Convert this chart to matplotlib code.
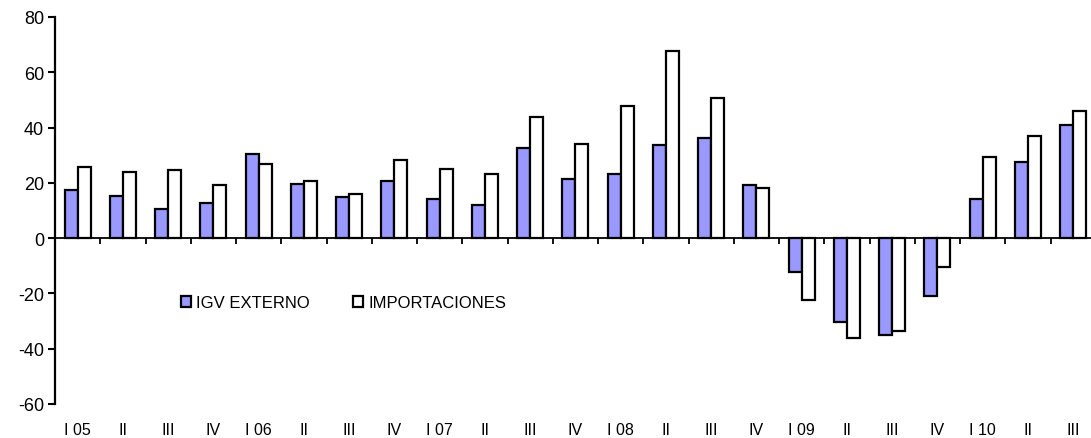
import numpy as np
import matplotlib.pyplot as plt
from matplotlib.patches import Patch
from matplotlib.transforms import blended_transform_factory

plt.rcParams['font.family'] = ['Liberation Sans', 'DejaVu Sans']
plt.rcParams['axes.unicode_minus'] = False

# Quarterly data, I 05 .. III 10
quarters = ["I 05", "II", "III", "IV", "I 06", "II", "III", "IV",
            "I 07", "II", "III", "IV", "I 08", "II", "III", "IV",
            "I 09", "II", "III", "IV", "I 10", "II", "III"]
igv_externo = [17.4, 15.1, 10.7, 12.7, 30.3, 19.7, 14.8, 20.6,
               14.0, 11.9, 32.7, 21.5, 23.1, 33.6, 36.1, 19.3,
               -12.1, -30.2, -35.0, -21.0, 14.1, 27.5, 40.9]
importaciones = [25.6, 24.1, 24.6, 19.4, 27.0, 20.6, 15.8, 28.3,
                 24.9, 23.1, 43.8, 34.1, 47.9, 67.8, 50.6, 18.2,
                 -22.4, -36.3, -33.5, -10.6, 29.4, 37.0, 46.1]

W, H = 1091, 439
fig = plt.figure(figsize=(W / 100, H / 100), dpi=100)
# axes slightly wider than figure: the last category is cut off in the original
ax = fig.add_axes([55 / W, (H - 405) / H, 23 * 45.25 / W, (405 - 18) / H])

x = np.arange(len(quarters))
bw = 0.29
ax.bar(x - bw / 2, igv_externo, bw, color='#9999FF', edgecolor='black', linewidth=1.6, zorder=2)
ax.bar(x + bw / 2, importaciones, bw, color='white', edgecolor='black', linewidth=1.6, zorder=2)

ax.set_xlim(-0.5, len(quarters) - 0.5)
ax.set_ylim(-60, 80)
ax.set_yticks(np.arange(-60, 81, 20))
ax.tick_params(axis='y', direction='out', length=5, width=1.5, labelsize=13, pad=3)

ax.spines['top'].set_visible(False)
ax.spines['right'].set_visible(False)
ax.spines['left'].set_linewidth(1.6)
ax.spines['bottom'].set_position(('data', 0))
ax.spines['bottom'].set_linewidth(1.3)
ax.spines['bottom'].set_zorder(3)

ax.set_xticks(x + 0.5)
ax.set_xticklabels([])
ax.tick_params(axis='x', direction='out', length=4, width=1.3)

trans = blended_transform_factory(ax.transData, ax.transAxes)
for xi, lab in zip(x, quarters):
    ax.text(xi, -0.067, lab, transform=trans, ha='center', va='center', fontsize=11.5)

handles = [Patch(facecolor='#9999FF', edgecolor='black', linewidth=1.6, label='IGV EXTERNO'),
           Patch(facecolor='white', edgecolor='black', linewidth=1.6, label='IMPORTACIONES')]
ax.legend(handles=handles, loc='center left', bbox_to_anchor=(181 / W, (H - 304) / H),
          bbox_transform=fig.transFigure, ncol=2, frameon=False, fontsize=12,
          handlelength=0.6, handleheight=0.6, handletextpad=0.3, columnspacing=2.6,
          borderpad=0, borderaxespad=0)

fig.savefig('out.png', dpi=100)
